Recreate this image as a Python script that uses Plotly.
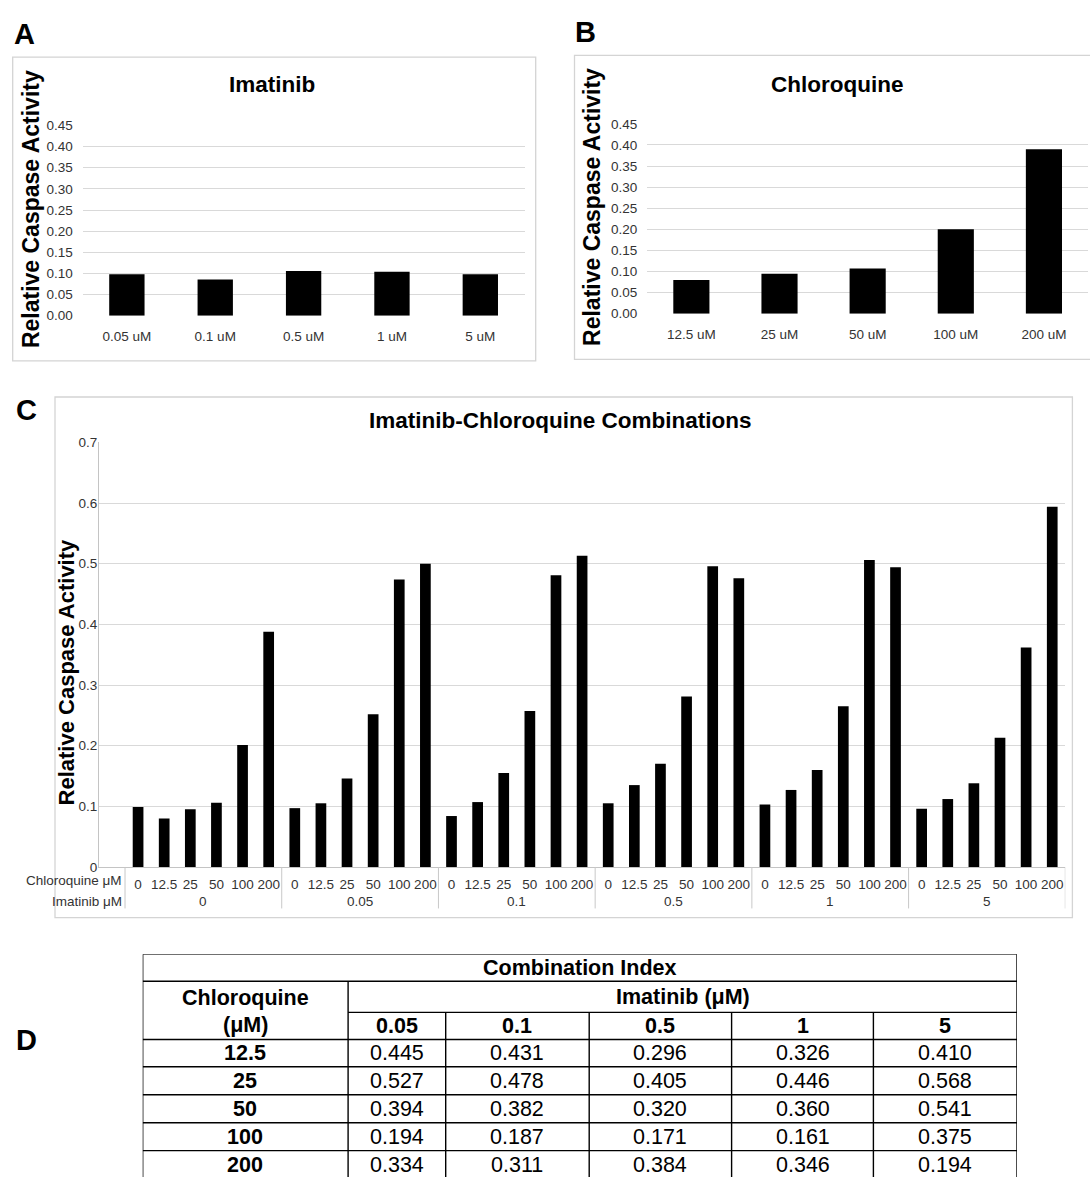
import plotly.graph_objects as go

# ---------------- data ----------------
imatinib_doses = ["0.05 uM", "0.1 uM", "0.5 uM", "1 uM", "5 uM"]
imatinib_activity = [0.098, 0.086, 0.106, 0.104, 0.098]

chloroquine_doses = ["12.5 uM", "25 uM", "50 uM", "100 uM", "200 uM"]
chloroquine_activity = [0.080, 0.095, 0.107, 0.200, 0.390]

combo_chloroquine_um = ["0", "12.5", "25", "50", "100", "200"]
combo_imatinib_um = ["0", "0.05", "0.1", "0.5", "1", "5"]
combo_im_0 = [0.099, 0.080, 0.095, 0.106, 0.201, 0.388]
combo_im_0_05 = [0.097, 0.105, 0.146, 0.252, 0.474, 0.500]
combo_im_0_1 = [0.084, 0.107, 0.155, 0.257, 0.481, 0.513]
combo_im_0_5 = [0.105, 0.135, 0.170, 0.281, 0.496, 0.476]
combo_im_1 = [0.103, 0.127, 0.160, 0.265, 0.506, 0.494]
combo_im_5 = [0.096, 0.112, 0.138, 0.213, 0.362, 0.594]

ci_chloroquine = ["12.5", "25", "50", "100", "200"]
ci_imatinib = ["0.05", "0.1", "0.5", "1", "5"]
ci_cq_12_5 = [0.445, 0.431, 0.296, 0.326, 0.410]
ci_cq_25 = [0.527, 0.478, 0.405, 0.446, 0.568]
ci_cq_50 = [0.394, 0.382, 0.320, 0.360, 0.541]
ci_cq_100 = [0.194, 0.187, 0.171, 0.161, 0.375]
ci_cq_200 = [0.334, 0.311, 0.384, 0.346, 0.194]

# ---------------- layout helpers ----------------
W, H = 1090, 1185
FONT = "Liberation Sans, Arial, sans-serif"
GRID = "#d9d9d9"
BOX = "#d4d4d4"
TICK = "#333333"


def fx(px):
    return px / W


def fy(py):
    return 1 - py / H


fig = go.Figure()

# Panel A
fig.add_trace(go.Bar(x=imatinib_doses, y=imatinib_activity, xaxis="x", yaxis="y",
                     marker=dict(color="black", line=dict(width=0)), width=0.4,
                     showlegend=False))
# Panel B
fig.add_trace(go.Bar(x=chloroquine_doses, y=chloroquine_activity, xaxis="x2", yaxis="y2",
                     marker=dict(color="black", line=dict(width=0)), width=0.41,
                     showlegend=False))
# Panel C
combo_series = [combo_im_0, combo_im_0_05, combo_im_0_1, combo_im_0_5, combo_im_1, combo_im_5]
n_cq = len(combo_chloroquine_um)
cx, cy = [], []
for g, vals in enumerate(combo_series):
    for i, v in enumerate(vals):
        cx.append(1 + g * n_cq + i)
        cy.append(v)
fig.add_trace(go.Bar(x=cx, y=cy, xaxis="x3", yaxis="y3",
                     marker=dict(color="black", line=dict(width=0)), width=0.41,
                     showlegend=False))

ytick_ab = [round(i * 0.05, 2) for i in range(10)]
common_y = dict(showgrid=True, gridcolor=GRID, gridwidth=1, zeroline=False, showline=False,
                tickfont=dict(size=13.5, color=TICK, family=FONT), ticks="",
                tickmode="array", tickvals=ytick_ab, tickformat=".2f",
                ticklabelstandoff=9, fixedrange=True)
common_x = dict(type="category", showgrid=False, zeroline=False, showline=False, ticks="",
                tickfont=dict(size=13.5, color=TICK, family=FONT), ticklabelstandoff=11)

n_groups = len(combo_series)
n_slots = n_groups * n_cq + 1

layout = dict(
    width=W, height=H, margin=dict(l=0, r=0, t=0, b=0),
    paper_bgcolor="white", plot_bgcolor="white",
    font=dict(family=FONT, color="black"),
    xaxis=dict(domain=[fx(82.7), fx(524.5)], anchor="y", **common_x),
    yaxis=dict(domain=[fy(312.7), fy(120)], anchor="x", range=[0, 0.45], **common_y),
    xaxis2=dict(domain=[fx(647.3), fx(1088)], anchor="y2", **common_x),
    yaxis2=dict(domain=[fy(310.7), fy(118.3)], anchor="x2", range=[0, 0.45], **common_y),
    xaxis3=dict(domain=[fx(98.9), fx(1065.3)], anchor="y3", range=[-0.5, n_slots - 0.5],
                tickmode="array", tickvals=list(range(1, n_slots)),
                ticktext=combo_chloroquine_um * n_groups, ticks="",
                showgrid=False, zeroline=False, showline=True, linecolor="#c4c4c4", linewidth=1,
                tickfont=dict(size=13.5, color=TICK, family=FONT), ticklabelstandoff=5),
    yaxis3=dict(domain=[fy(871), fy(441)], anchor="x3", range=[0, 0.7],
                tickmode="array", tickvals=[round(i * 0.1, 1) for i in range(8)],
                ticktext=["0"] + [f"{i * 0.1:.1f}" for i in range(1, 8)],
                showgrid=True, gridcolor=GRID, gridwidth=1, zeroline=False,
                showline=True, linecolor="#c4c4c4", linewidth=1, ticks="",
                tickfont=dict(size=13.5, color=TICK, family=FONT), ticklabelstandoff=-2),
)

# Table axes (pixel-like units)
tbl_left, tbl_right, tbl_top = 142.7, 1017.0, 959.3
layout["xaxis4"] = dict(domain=[fx(tbl_left), fx(tbl_right)], range=[0, tbl_right - tbl_left],
                        anchor="y4", visible=False, fixedrange=True)
layout["yaxis4"] = dict(domain=[0, fy(tbl_top)], range=[H - tbl_top, 0],
                        anchor="x4", visible=False, fixedrange=True)
fig.update_layout(**layout)

shapes = []
annotations = []

# Panel boxes
for (x0, y0, x1, y1) in [(12.7, 50.7, 535.7, 358.5), (574.5, 49.0, 1110, 356.9), (55.0, 395.0, 1072.4, 922.3)]:
    shapes.append(dict(type="rect", xref="paper", yref="paper", x0=fx(x0), x1=fx(x1),
                       y0=fy(y1), y1=fy(y0), line=dict(color=BOX, width=1.3)))

# Panel letters
for letter, (lx, ly) in zip("ABCD", [(12, 27), (573, 25), (14, 408), (14, 1046)]):
    annotations.append(dict(text=f"<b>{letter}</b>", x=fx(lx), y=fy(ly), xref="paper", yref="paper",
                            xanchor="left", yanchor="middle", showarrow=False,
                            font=dict(size=29, color="black", family=FONT)))

# Panel titles
for txt, (tx, ty) in zip(["Imatinib", "Chloroquine", "Imatinib-Chloroquine Combinations"],
                         [(271.7, 79), (836.7, 78), (560, 418.3)]):
    annotations.append(dict(text=f"<b>{txt}</b>", x=fx(tx), y=fy(ty), xref="paper", yref="paper",
                            xanchor="center", yanchor="middle", showarrow=False,
                            font=dict(size=22.5, color="black", family=FONT)))

# Y titles
for (tx, ty, sz) in [(31.7, 205, 23), (592, 202.5, 23), (66, 674, 22)]:
    annotations.append(dict(text="<b>Relative Caspase Activity</b>", x=fx(tx), y=fy(ty),
                            xref="paper", yref="paper", xanchor="center", yanchor="middle",
                            textangle=-90, showarrow=False,
                            font=dict(size=sz, color="black", family=FONT)))

# Panel C: multi-level category labels
row_cq_y, row_im_y = 885, 905.5
annotations.append(dict(text="Chloroquine μM", x=0.5, y=fy(row_cq_y), xref="x3", yref="paper",
                        xanchor="right", yanchor="middle", xshift=-1, showarrow=False,
                        font=dict(size=13.5, color=TICK, family=FONT)))
annotations.append(dict(text="Imatinib μM", x=0.5, y=fy(row_im_y), xref="x3", yref="paper",
                        xanchor="right", yanchor="middle", xshift=-1, showarrow=False,
                        font=dict(size=13.5, color=TICK, family=FONT)))
for g, lab in enumerate(combo_imatinib_um):
    annotations.append(dict(text=lab, x=1 + g * n_cq + (n_cq - 1) / 2, y=fy(row_im_y),
                            xref="x3", yref="paper", xanchor="center", yanchor="middle",
                            showarrow=False, font=dict(size=13.5, color=TICK, family=FONT)))
for g in range(n_groups + 1):
    xd = 0.5 + g * n_cq
    shapes.append(dict(type="line", xref="x3", yref="paper", x0=xd, x1=xd,
                       y0=fy(871), y1=fy(913), line=dict(color="#c8c8c8", width=1)))

# Table D
col_w = [205.4, 97.6, 143.5, 142.4, 141.8, 143.6]
col_edges = [0]
for w in col_w:
    col_edges.append(col_edges[-1] + w)
row_h = [27.4, 31.6, 27.4, 27.6, 28.4, 28.3, 28.3, 28.3]
row_edges = [0]
for h in row_h:
    row_edges.append(row_edges[-1] + h)
tw = col_edges[-1]
LW = 1.4
TC = "black"


def tline(x0, y0, x1, y1):
    shapes.append(dict(type="line", xref="x4", yref="y4", x0=x0, x1=x1, y0=y0, y1=y1,
                       line=dict(color=TC, width=LW)))


tline(0, 0, tw, 0)
tline(0, 0, 0, row_edges[-1])
tline(tw, 0, tw, row_edges[-1])
tline(0, row_edges[1], tw, row_edges[1])
tline(col_edges[1], row_edges[2], tw, row_edges[2])
for r in range(3, len(row_edges)):
    tline(0, row_edges[r], tw, row_edges[r])
tline(col_edges[1], row_edges[1], col_edges[1], row_edges[-1])
for c in range(2, len(col_edges) - 1):
    tline(col_edges[c], row_edges[2], col_edges[c], row_edges[-1])

TFS = 21.5


def ttext(txt, x, y, bold=False):
    annotations.append(dict(text=f"<b>{txt}</b>" if bold else txt, x=x, y=y, xref="x4", yref="y4",
                            xanchor="center", yanchor="middle", showarrow=False,
                            font=dict(size=TFS, color="black", family=FONT)))


def cmid(a, b):
    return (a + b) / 2


ttext("Combination Index", tw / 2, cmid(row_edges[0], row_edges[1]), True)
ttext("Chloroquine", cmid(col_edges[0], col_edges[1]), 44.5, True)
ttext("(μM)", cmid(col_edges[0], col_edges[1]), 72.0, True)
ttext("Imatinib (μM)", cmid(col_edges[1], tw), cmid(row_edges[1], row_edges[2]), True)
for c, lab in enumerate(ci_imatinib):
    ttext(lab, cmid(col_edges[c + 1], col_edges[c + 2]), cmid(row_edges[2], row_edges[3]), True)
ci_rows = [ci_cq_12_5, ci_cq_25, ci_cq_50, ci_cq_100, ci_cq_200]
for r, (lab, vals) in enumerate(zip(ci_chloroquine, ci_rows)):
    yc = cmid(row_edges[3 + r], row_edges[4 + r])
    ttext(lab, cmid(col_edges[0], col_edges[1]), yc, True)
    for c, v in enumerate(vals):
        ttext(f"{v:.3f}", cmid(col_edges[c + 1], col_edges[c + 2]), yc)

fig.update_layout(shapes=shapes, annotations=annotations)
fig.write_html("out.html", config={"displayModeBar": False},
               post_script="document.body.style.margin='0';document.body.style.overflow='hidden';")
